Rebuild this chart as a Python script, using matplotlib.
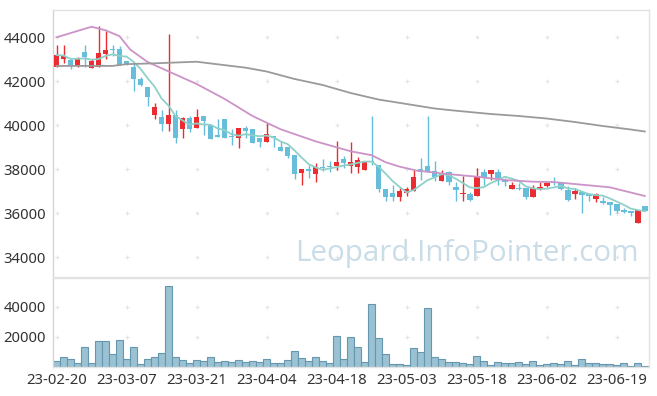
import matplotlib
matplotlib.use("Agg")
import matplotlib.pyplot as plt
import numpy as np
import pandas as pd

plt.rcParams['font.family'] = ['Noto Sans', 'DejaVu Sans']

# ---- data ----
opens = [42665, 43000, 42968, 42695, 43332, 42620, 42650, 43240, 43453, 43468,
         42938, 42650, 42089, 41726, 40468, 40377, 40074, 40468, 39847, 40317,
         39893, 40423, 40029, 39514, 40271, 39484, 39438, 39878, 39832, 39423,
         39256, 39514, 39014, 39014, 38650, 37847, 37999, 37772, 38120, 38150,
         38135, 38453, 38150, 38120, 37984, 38378, 38196, 37105, 36923, 36757,
         36908, 37029, 38000, 38150, 37923, 37484, 37878, 37212, 36863, 36878,
         36803, 37893, 37787, 37878, 37514, 37120, 37166, 37136, 36757, 37106,
         37242, 37439, 37408, 37060, 36878, 36984, 36863, 36651, 36575, 36530,
         36424, 36166, 36106, 35545, 36333]
highs = [43650, 43650, 43000, 43090, 43635, 43013, 44513, 44286, 43665, 43620,
         42938, 42847, 42180, 41726, 40998, 40696, 44135, 40696, 40362, 40423,
         40726, 40423, 40029, 40271, 40302, 39847, 39862, 39968, 39832, 39423,
         40090, 39514, 39271, 39014, 38650, 38014, 38181, 38272, 38453, 38362,
         39271, 38605, 39226, 38544, 38378, 40423, 38196, 37105, 37302, 37150,
         37181, 37953, 38499, 40423, 38393, 37969, 37908, 37439, 37696, 36969,
         38045, 38000, 37969, 38000, 37620, 37424, 37363, 37136, 37287, 37439,
         37439, 37636, 37408, 37242, 37166, 36984, 36939, 36939, 36727, 36530,
         36424, 36227, 36106, 36151, 36333]
lows = [42635, 42847, 42544, 42665, 42665, 42620, 42650, 42998, 43150, 42726,
        42740, 41574, 41786, 40877, 40271, 39756, 39756, 39211, 39438, 39711,
        39893, 39575, 39393, 39453, 39438, 39105, 38953, 39438, 39211, 39000,
        39256, 39029, 38832, 38499, 37544, 37272, 37590, 37423, 37938, 37878,
        37953, 38044, 37832, 37817, 37984, 38196, 36984, 36544, 36544, 36544,
        36772, 37029, 37514, 37878, 37469, 37484, 37287, 36575, 36575, 36575,
        36803, 37287, 37514, 37287, 37242, 37120, 37060, 36666, 36757, 37060,
        37181, 37287, 37060, 36575, 36666, 35999, 36575, 36530, 36409, 35924,
        36000, 36000, 35878, 35545, 36121]
closes = [43195, 43150, 42710, 43044, 43104, 42907, 43286, 43422, 43407, 42726,
          42786, 42089, 41817, 41302, 40817, 40074, 40468, 39438, 40317, 39847,
          40362, 40211, 39393, 39484, 39438, 39453, 39862, 39756, 39211, 39241,
          39605, 39438, 38832, 38620, 37772, 38014, 37938, 38090, 38060, 38090,
          38317, 38302, 38332, 38423, 38378, 38317, 37120, 36757, 36757, 37029,
          37090, 37650, 37900, 37878, 37635, 37847, 37438, 37060, 36939, 36606,
          37696, 37651, 37969, 37590, 37408, 37287, 37090, 36757, 37136, 37212,
          37393, 37378, 37105, 36606, 37030, 36833, 36803, 36878, 36469, 36393,
          36121, 36060, 36015, 36151, 36121]
volumes = [4200, 6700, 5300, 2700, 13300, 2700, 17300, 17300, 8700, 18000,
           5300, 13300, 2000, 5300, 6700, 9300, 54000, 6700, 4700, 2700,
           4700, 4000, 6700, 3300, 4000, 3300, 4700, 3300, 4000, 3300,
           5300, 2700, 2700, 4700, 10700, 6000, 4000, 6700, 4000, 2700,
           20700, 5300, 20000, 13300, 3300, 42000, 19300, 8700, 2000, 2000,
           1300, 12700, 10000, 39300, 6700, 5300, 3300, 3300, 2700, 2000,
           7300, 4000, 1300, 3300, 2700, 2700, 3300, 2000, 4000, 1300,
           2000, 2700, 2000, 4000, 1300, 5300, 2700, 2700, 2000, 2000,
           1300, 2700, 700, 2700, 700]

# moving averages (bar index, value)
ma20_idx = [0, 5, 7, 9, 10.5, 13, 16, 20, 24, 28, 32, 37, 42, 45, 47, 49, 51.5, 56, 60, 64, 68, 71, 79, 84]
ma20_val = [44000, 44480, 44320, 44050, 43450, 42880, 42450, 41880, 41200, 40420, 39820, 39270,
            38820, 38640, 38320, 38120, 37937, 37780, 37666, 37514, 37437, 37420, 37182, 36787]
ma60_idx = [0, 8, 10, 14, 20, 23, 27, 30, 34, 38, 42, 46, 50, 54, 57, 62, 66, 70, 74, 78, 82, 84]
ma60_val = [42700, 42700, 42780, 42818, 42890, 42773, 42620, 42446, 42105, 41832, 41468, 41170,
            40968, 40764, 40664, 40514, 40423, 40309, 40150, 39968, 39809, 39718]

tick_pos = [0, 10, 20, 30, 40, 50, 60, 70, 80]
tick_labels = ['23-02-20', '23-03-07', '23-03-21', '23-04-04', '23-04-18',
               '23-05-03', '23-05-18', '23-06-02', '23-06-19']
price_ticks = [34000, 36000, 38000, 40000, 42000, 44000]
vol_ticks = [20000, 40000]

# ---- figure ----
W, H = 657, 396
fig = plt.figure(figsize=(W / 100, H / 100), dpi=100)
fig.patch.set_facecolor('white')

def frac(x0, y0, x1, y1):
    return [x0 / W, 1 - y1 / H, (x1 - x0) / W, (y1 - y0) / H]

ax = fig.add_axes(frac(53, 10, 649, 277))
axv = fig.add_axes(frac(53, 278, 649, 367))

n = len(closes)
x = np.arange(n)
o = np.array(opens); c = np.array(closes); h = np.array(highs); l = np.array(lows)
up = c >= o
RED = '#eb2c30'
BLUE = '#66bedb'
cols = np.where(up, RED, BLUE)

# grid crosses
gx, gy = np.meshgrid(tick_pos, price_ticks)
ax.scatter(gx.ravel(), gy.ravel(), marker='+', s=10, color='#e4e4e4', lw=0.8, zorder=0)
gx2, gy2 = np.meshgrid(tick_pos, vol_ticks)
axv.scatter(gx2.ravel(), gy2.ravel(), marker='+', s=10, color='#e4e4e4', lw=0.8, zorder=0)

# watermark
fig.text(467 / W, 1 - 253 / H, 'Leopard.InfoPointer.com', color='#c9dce7',
         fontsize=21.3, ha='center', va='center', family=['Open Sans', 'DejaVu Sans'], zorder=1)

# candles
ax.vlines(x, l, h, colors=cols, lw=1.0, zorder=2)
body_bot = np.minimum(o, c)
body_h = np.maximum(np.abs(c - o), 60)
ax.bar(x, body_h, bottom=body_bot, width=0.8, color=cols, zorder=3, linewidth=0)

# moving averages
ma5 = pd.Series(closes).rolling(5, min_periods=1).mean()
ax.plot(x, ma5, color='#8fd1c8', lw=1.3, zorder=4)
ax.plot(ma20_idx, ma20_val, color='#cc93c8', lw=1.3, zorder=4)
ax.plot(ma60_idx, ma60_val, color='#9a9a9a', lw=1.3, zorder=4)

ax.set_xlim(-0.5, 84.6)
ax.set_ylim(33105, 45241)
ax.set_yticks(price_ticks)
ax.set_yticklabels([str(t) for t in price_ticks])
ax.set_xticks([])

# volume
axv.bar(x, volumes, width=1.0, color='#9bc2d2', edgecolor='#6597b0', linewidth=0.8, zorder=2)
axv.set_xlim(-0.5, 84.6)
axv.set_ylim(0, 59300)
axv.set_yticks(vol_ticks)
axv.set_yticklabels([str(t) for t in vol_ticks])
axv.set_xticks(tick_pos)
axv.set_xticklabels(tick_labels)

for a in (ax, axv):
    a.tick_params(length=0, labelsize=10.7, colors='#333333', pad=5)
    for s in a.spines.values():
        s.set_color('#e3e3e3')
        s.set_linewidth(1.0)
    a.spines['left'].set_color('#d5d5d5')
    a.set_facecolor('none')
axv.tick_params(axis='x', pad=4)

fig.savefig('out.png', dpi=100, facecolor='white')
